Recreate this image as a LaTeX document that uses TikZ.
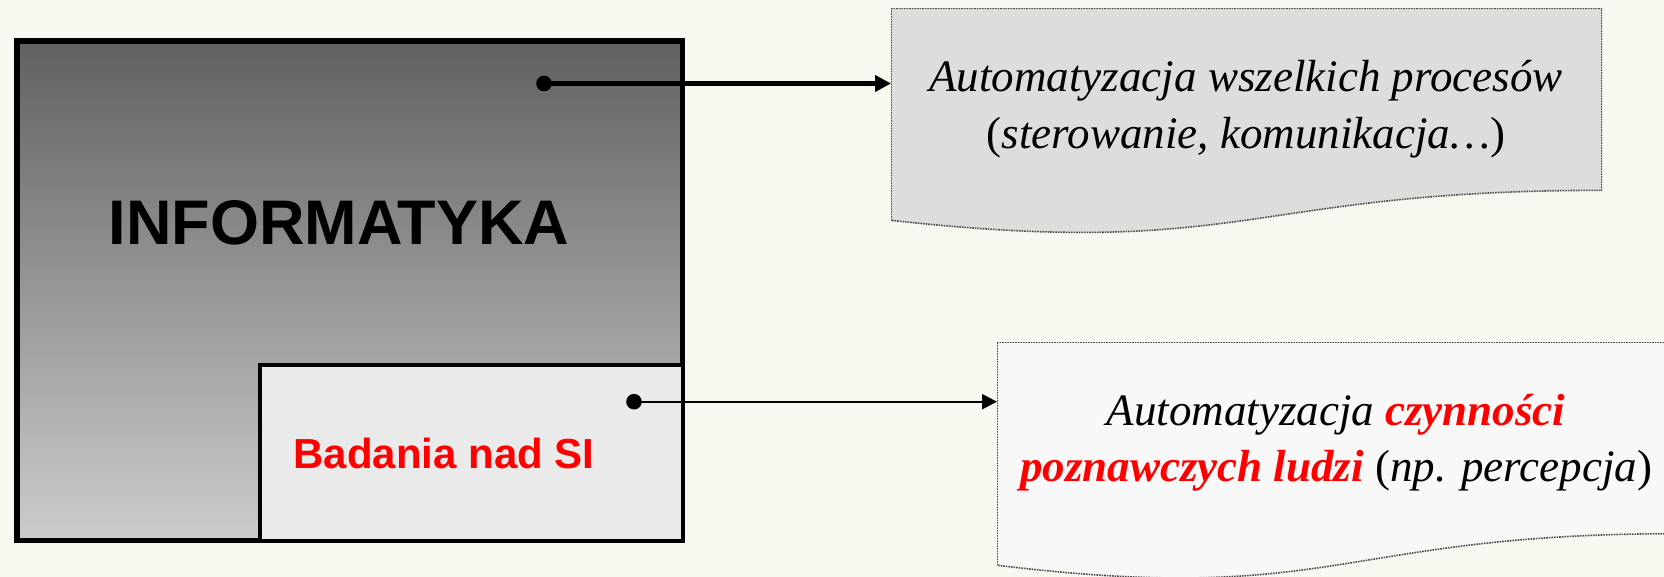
\documentclass[tikz,border=0pt]{standalone}
\usepackage{fontspec}
\setmainfont{Liberation Serif}
\setsansfont{Liberation Sans}
\usetikzlibrary{arrows.meta,calc}

\definecolor{paper}{RGB}{247,248,240}
\definecolor{docgray}{RGB}{221,221,221}
\definecolor{docwhite}{RGB}{248,248,248}
\definecolor{sifill}{RGB}{234,234,234}

\newcommand\redbf[1]{\textcolor{red}{\bfseries #1}}

\begin{document}
\begin{tikzpicture}[x=1pt,y=-1pt,
  field/.style={draw,line width=5.5pt,inner sep=0pt,shade,top color=black!62,bottom color=black!20},
  subfield/.style={draw,line width=4pt,fill=sifill,inner sep=0pt},
  doc/.style={inner sep=0pt,outer sep=0pt,path picture={
    \filldraw[fill=#1,draw=black!70,densely dotted,line width=1.6pt]
      let \p1=(path picture bounding box.north west),\p2=(path picture bounding box.south east) in
      (\x1,\y1) -- (\x2,\y1) -- (\x2,{\y1+0.802*(\y2-\y1)})
      .. controls ({0.5*(\x1+\x2)},{\y1+0.802*(\y2-\y1)}) and ({0.5*(\x1+\x2)},{\y1+1.1075*(\y2-\y1)})
      .. (\x1,{\y1+0.934*(\y2-\y1)}) -- cycle;}},
  bigtxt/.style={font=\sffamily\bfseries\fontsize{63}{70}\selectfont,inner sep=0pt},
  sitxt/.style={font=\sffamily\bfseries\fontsize{42}{48}\selectfont,text=red,inner sep=0pt},
  doctxt/.style={font=\itshape\fontsize{45}{57}\selectfont,inner sep=0pt},
  link/.style={-{Triangle[length=16pt,width=16pt]},line width=4.3pt},
  thinlink/.style={-{Triangle[length=15pt,width=15pt]},line width=2.3pt}]
  \fill[paper] (0,0) rectangle (1664,577);
  \useasboundingbox (0,0) rectangle (1664,577);
  % left block with the inner field
  \node[field,minimum width=665.6pt,minimum height=499.6pt,anchor=north west] (inf) at (14.2,38.3) {};
  \node[subfield,minimum width=423.5pt,minimum height=176.9pt,anchor=south east] (si) at (inf.south east) {};
  \node[bigtxt,anchor=base] (inftxt) at (339,245) {INFORMATYKA};
  \node[sitxt,anchor=base] (sitxt) at (444,468) {Badania nad SI};
  % the two documents
  \node[doc=docgray,minimum width=711pt,minimum height=227pt,anchor=north west] (proc) at (891,8.3) {};
  \node[doctxt,anchor=base] (proc1) at (1246,92) {Automatyzacja wszelkich procesów};
  \node[doctxt,anchor=base] (proc2) at (1246,149) {\textup{(}sterowanie, komunikacja…\textup{)}};
  \node[doc=docwhite,minimum width=680pt,minimum height=239pt,anchor=north west] (cog) at (997,342) {};
  \node[doctxt,anchor=base] (cog1) at (1336,425) {Automatyzacja \redbf{czynności}};
  \node[doctxt,anchor=base] (cog2) at (1336,481) {\redbf{poznawczych ludzi} \textup{(}np. percepcja\textup{)}};
  % links
  \coordinate (p1) at (544,83.5);
  \coordinate (p2) at (634,401.7);
  \fill (p1) circle (7.8pt);
  \fill (p2) circle (7.8pt);
  \draw[link] (p1) -- (proc.west |- p1);
  \draw[thinlink] (p2) -- (cog.west |- p2);
\end{tikzpicture}
\end{document}
